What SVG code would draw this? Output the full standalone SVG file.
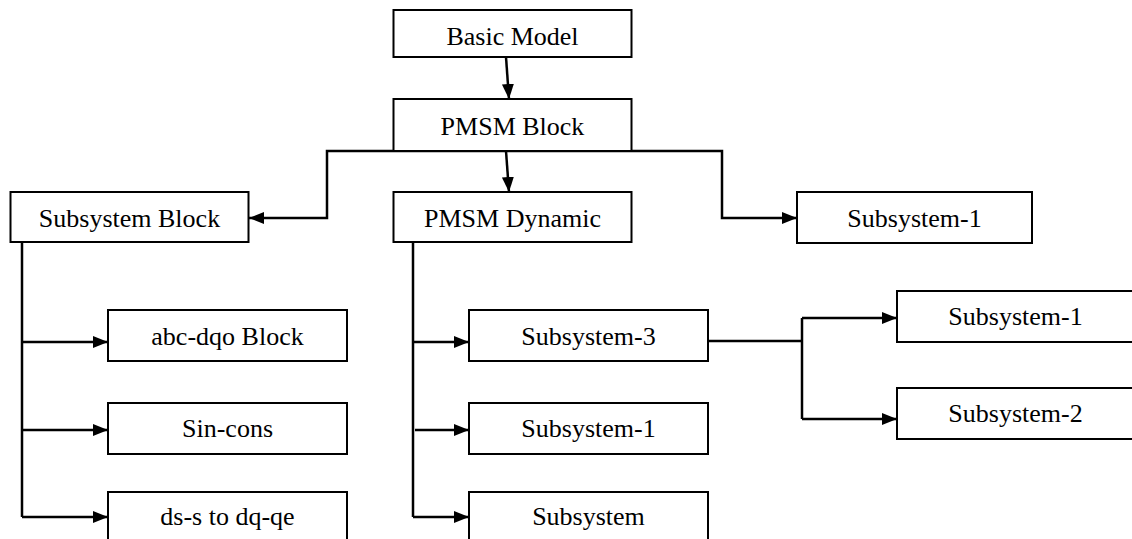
<svg xmlns="http://www.w3.org/2000/svg" width="1132" height="539" viewBox="0 0 1132 539">
<style>
.box{fill:#fff;stroke:#000;stroke-width:2}
.lbl{font-family:'Liberation Serif','Times New Roman',Times,serif;font-size:26px;fill:#000;text-anchor:middle}
.conn path{fill:none;stroke:#000;stroke-width:2.5}
</style>
<defs>
<marker id="arr" markerUnits="userSpaceOnUse" markerWidth="16" markerHeight="13" refX="15" refY="6" orient="auto">
<path d="M0,0 L15,6 L0,12 z" fill="#000"/>
</marker>
</defs>
<rect width="1132" height="539" fill="#fff"/>
<g class="conn">
<path d="M506,57 L509,99" marker-end="url(#arr)"/>
<path d="M506,151 L509,192" marker-end="url(#arr)"/>
<path d="M506,151 H327 V218 H249" marker-end="url(#arr)"/>
<path d="M506,151 H722 V218 H797" marker-end="url(#arr)"/>
<path d="M22,242 V517"/>
<path d="M22,342 H108" marker-end="url(#arr)"/>
<path d="M22,430 H108" marker-end="url(#arr)"/>
<path d="M22,517 H108" marker-end="url(#arr)"/>
<path d="M413,242 V517"/>
<path d="M413,342 H469" marker-end="url(#arr)"/>
<path d="M415,430 H469" marker-end="url(#arr)"/>
<path d="M413,517 H469" marker-end="url(#arr)"/>
<path d="M708,341 H802"/>
<path d="M802,318 V419"/>
<path d="M802,318 H897" marker-end="url(#arr)"/>
<path d="M802,419 H897" marker-end="url(#arr)"/>
</g>
<g font-family="Liberation Serif, serif">
<g id="basic-model"><rect class="box" x="393.5" y="10" width="238" height="47"/><text class="lbl" x="512.5" y="45">Basic Model</text></g>
<g id="pmsm-block"><rect class="box" x="393.5" y="99" width="238" height="52"/><text class="lbl" x="512.5" y="135">PMSM Block</text></g>
<g id="subsystem-block"><rect class="box" x="10.5" y="192" width="238" height="50"/><text class="lbl" x="129.5" y="226.5">Subsystem Block</text></g>
<g id="pmsm-dynamic"><rect class="box" x="393.5" y="192" width="238" height="50"/><text class="lbl" x="512.5" y="226.5">PMSM Dynamic</text></g>
<g id="subsystem-1-top"><rect class="box" x="797" y="192" width="235" height="51"/><text class="lbl" x="914.5" y="227">Subsystem-1</text></g>
<g id="abc-dqo"><rect class="box" x="108" y="310" width="239" height="51"/><text class="lbl" x="227.5" y="345">abc-dqo Block</text></g>
<g id="sin-cons"><rect class="box" x="108" y="403" width="239" height="51"/><text class="lbl" x="227.5" y="437">Sin-cons</text></g>
<g id="ds-s"><rect class="box" x="108" y="492" width="239" height="52"/><text class="lbl" x="227.5" y="525">ds-s to dq-qe</text></g>
<g id="subsystem-3"><rect class="box" x="469" y="310" width="239" height="51"/><text class="lbl" x="588.5" y="345">Subsystem-3</text></g>
<g id="subsystem-1-mid"><rect class="box" x="469" y="403" width="239" height="51"/><text class="lbl" x="588.5" y="437">Subsystem-1</text></g>
<g id="subsystem"><rect class="box" x="469" y="492" width="239" height="52"/><text class="lbl" x="588.5" y="525">Subsystem</text></g>
<g id="subsystem-1-right"><rect class="box" x="897" y="291" width="239" height="51"/><text class="lbl" x="1015.5" y="325">Subsystem-1</text></g>
<g id="subsystem-2-right"><rect class="box" x="897" y="388" width="239" height="51"/><text class="lbl" x="1015.5" y="422">Subsystem-2</text></g>
</g>
</svg>
